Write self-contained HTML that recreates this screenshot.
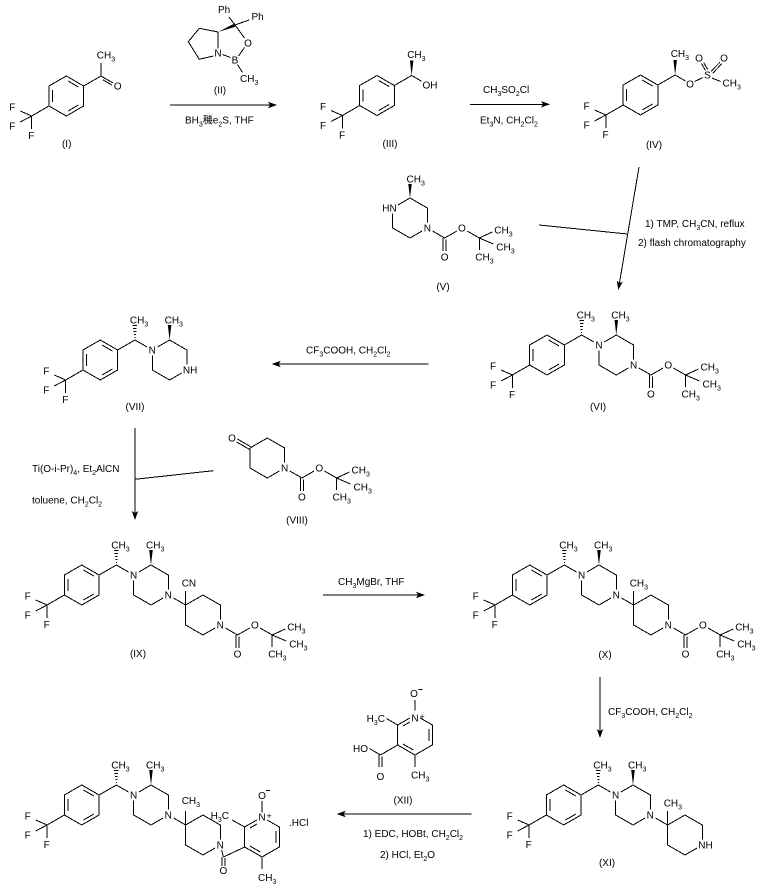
<!DOCTYPE html>
<html><head><meta charset="utf-8"><style>
html,body{margin:0;padding:0;background:#fff}
svg{display:block}
text{font-family:"Liberation Sans","Noto Sans CJK SC",sans-serif;font-size:10px;fill:#000}
.s{font-size:7px}
.m{text-anchor:middle}
.e{text-anchor:end}
path{fill:none;stroke:#000;stroke-width:1;shape-rendering:crispEdges}
polygon{fill:#000;stroke:none}
</style></head><body>
<svg width="757" height="887" viewBox="0 0 757 887" xmlns="http://www.w3.org/2000/svg">
<rect width="757" height="887" fill="#fff"/>
<defs>
<g id="bz"><path d="M0,-20 L17.32,-10 L17.32,10 L0,20 L-17.32,10 L-17.32,-10 Z M1.7,-15 L12.1,-9 M12.1,9 L1.7,15 M-13.8,-6 L-13.8,6 M-17.32,10 L-34.64,20 L-46,15 M-34.64,20 L-46,26 M-34.64,20 L-34.64,33"/></g>
<g id="mA">
<path d="M17.32,-10 L34.64,-20 L46.8,-13 M57.2,-13 L69.28,-20 L86.6,-10 L86.6,4.5 M81.4,13 L69.28,20 L51.96,10 L51.96,-4.5"/>
<path d="M34.14,-22.5 h1 M33.64,-25.5 h2 M33.24,-28.5 h2.8 M32.84,-31.5 h3.6 M32.44,-34.5 h4.4"/>
<polygon points="69.28,-20 67.5,-35 71.06,-35"/>
</g>
<g id="mB"><path d="M91.8,13 L103.92,20 L121.24,10 L138.56,20 L138.56,34.5 M133.4,43 L121.24,50 L103.92,40 L103.92,20 L103.92,6"/></g>
<g id="boc"><path d="M5.2,3 L17.32,10 L29.5,3 M39.8,3 L51.96,10 L64.96,4 M51.96,10 L65.96,16 M51.96,10 L51.96,22 M15.82,10 L15.82,23 M18.82,11.5 L18.82,23"/></g>
</defs>

<!-- I -->
<g transform="translate(66.3,96)">
<use href="#bz"/>
<text class="m" x="-54" y="14.6">F</text><text class="m" x="-54" y="33.6">F</text><text class="m" x="-35" y="43">F</text>
<path d="M17.32,-10 L34.64,-20 L34.64,-33 M34.64,-20 L46.5,-13.2 M36.6,-16.2 L45.5,-11"/>
<text class="m" x="51.5" y="-6.4">O</text>
<text x="30.5" y="-37.4">CH<tspan class="s" dy="3">3</tspan></text>
</g>
<text class="m" x="66.7" y="147">(I)</text>

<!-- II -->
<path d="M235,25 L229,17 M235,25 L249,20 M235,25 L244.5,38 M244.5,47.5 L238.5,56 M222.5,54.5 L230.5,57.5 M237.5,64.5 L242.5,72.5 M218,32 L218,48.5 M213.5,56 L199.3,59.3 L188.3,41.7 L199.3,28.3 L218,32"/>
<polygon points="218,32 235,23.3 235,26.9"/>
<text x="218" y="13">Ph</text>
<text x="251.5" y="20">Ph</text>
<text class="m" x="248" y="46.5">O</text>
<text class="m" x="235" y="63.5">B</text>
<text class="m" x="218" y="56.5">N</text>
<text x="240" y="82">CH<tspan class="s" dy="3">3</tspan></text>
<text class="m" x="220" y="93.5">(II)</text>

<!-- arrow 1 -->
<path d="M170,105 L276,105"/>
<polygon points="277,105 268,101.8 270,105 268,108.2"/>
<text x="185" y="123.5">BH<tspan class="s" dy="3">3</tspan><tspan dy="-3">穖e</tspan><tspan class="s" dy="3">2</tspan><tspan dy="-3">S, THF</tspan></text>

<!-- III -->
<g transform="translate(377,95.5)">
<use href="#bz"/>
<text class="m" x="-54" y="14.6">F</text><text class="m" x="-54" y="33.6">F</text><text class="m" x="-35" y="43">F</text>
<path d="M17.32,-10 L34.64,-20 L44.5,-14.3"/>
<polygon points="34.64,-20 32.9,-35 36.4,-35"/>
<text x="45.5" y="-7">OH</text>
<text x="30.2" y="-37.5">CH<tspan class="s" dy="3">3</tspan></text>
</g>
<text class="m" x="390" y="147">(III)</text>

<!-- arrow 2 -->
<path d="M470,104.3 L549,104.3"/>
<polygon points="550,104.3 541,101.1 543,104.3 541,107.5"/>
<text x="483" y="93">CH<tspan class="s" dy="3">3</tspan><tspan dy="-3">SO</tspan><tspan class="s" dy="3">2</tspan><tspan dy="-3">Cl</tspan></text>
<text x="480" y="123.5">Et<tspan class="s" dy="3">3</tspan><tspan dy="-3">N, CH</tspan><tspan class="s" dy="3">2</tspan><tspan dy="-3">Cl</tspan><tspan class="s" dy="3">2</tspan></text>

<!-- IV -->
<g transform="translate(640.5,95)">
<use href="#bz"/>
<text class="m" x="-54" y="14.6">F</text><text class="m" x="-54" y="33.6">F</text><text class="m" x="-35" y="43">F</text>
<path d="M17.32,-10 L34.64,-20 L45,-14 M54,-13.5 L62.5,-17.5 M71.5,-17 L80,-13.5 M65,-24.5 L61,-31.5 M67.2,-25.6 L63.2,-32.5 M70.5,-23.6 L79.5,-32.8 M72.3,-21.9 L81.3,-31.2"/>
<polygon points="34.64,-20 32.9,-35 36.4,-35"/>
<text x="30.2" y="-38">CH<tspan class="s" dy="3">3</tspan></text>
<text class="m" x="49.5" y="-7.5">O</text>
<text class="m" x="67" y="-16.4">S</text>
<text class="m" x="58.5" y="-33.4">O</text>
<text class="m" x="83.5" y="-33.4">O</text>
<text x="82" y="-8.4">CH<tspan class="s" dy="3">3</tspan></text>
</g>
<text class="m" x="654" y="148">(IV)</text>

<!-- V -->
<g transform="translate(410,218)">
<path d="M-12.1,-13 L0,-20 L17.32,-10 L17.32,4.5 M12.1,13 L0,20 L-17.32,10 L-17.32,-4.5"/>
<polygon points="0,-20 -1.75,-34 1.75,-34"/>
<text class="e" x="-13.3" y="-6.4">HN</text>
<text class="m" x="17.32" y="13.6">N</text>
<text x="-3.5" y="-35.5">CH<tspan class="s" dy="3">3</tspan></text>
</g>
<g transform="translate(427.32,228)"><use href="#boc"/>
<text class="m" x="17.32" y="32.6">O</text><text class="m" x="34.64" y="3.6">O</text>
<text x="66.96" y="5.6">CH<tspan class="s" dy="3">3</tspan></text><text x="68.96" y="22.6">CH<tspan class="s" dy="3">3</tspan></text><text x="47.96" y="32.6">CH<tspan class="s" dy="3">3</tspan></text>
</g>
<text class="m" x="443" y="290">(V)</text>

<!-- arrow 3 -->
<path d="M639,167 L618.6,288 M539,225 L627.3,234"/>
<polygon points="618.3,290 622.8,281.6 619.5,283.1 616.8,280.6"/>
<text x="645" y="227">1) TMP, CH<tspan class="s" dy="3">3</tspan><tspan dy="-3">CN, reflux</tspan></text>
<text x="638" y="246">2) flash chromatography</text>

<!-- VI -->
<g transform="translate(547,355)">
<use href="#bz"/><use href="#mA"/>
<text class="m" x="-54" y="14.6">F</text><text class="m" x="-54" y="33.6">F</text><text class="m" x="-35" y="43">F</text>
<text class="m" x="51.96" y="-6.4">N</text><text class="m" x="86.6" y="13.6">N</text>
<text x="29.6" y="-36.4">CH<tspan class="s" dy="3">3</tspan></text><text x="64.3" y="-36.4">CH<tspan class="s" dy="3">3</tspan></text>
</g>
<g transform="translate(633.6,365)"><use href="#boc"/>
<text class="m" x="17.32" y="32.6">O</text><text class="m" x="34.64" y="3.6">O</text>
<text x="66.96" y="5.6">CH<tspan class="s" dy="3">3</tspan></text><text x="68.96" y="22.6">CH<tspan class="s" dy="3">3</tspan></text><text x="47.96" y="32.6">CH<tspan class="s" dy="3">3</tspan></text>
</g>
<text class="m" x="598" y="410">(VI)</text>

<!-- arrow 4 -->
<path d="M428.3,364 L273,364"/>
<polygon points="271.7,364 280.7,360.8 278.7,364 280.7,367.2"/>
<text x="306" y="353.5">CF<tspan class="s" dy="3">3</tspan><tspan dy="-3">COOH, CH</tspan><tspan class="s" dy="3">2</tspan><tspan dy="-3">Cl</tspan><tspan class="s" dy="3">2</tspan></text>

<!-- VII -->
<g transform="translate(100.3,360)">
<use href="#bz"/><use href="#mA"/>
<text class="m" x="-54" y="14.6">F</text><text class="m" x="-54" y="33.6">F</text><text class="m" x="-35" y="43">F</text>
<text class="m" x="51.96" y="-6.4">N</text><text x="82.6" y="13.6">NH</text>
<text x="29.6" y="-36.4">CH<tspan class="s" dy="3">3</tspan></text><text x="64.3" y="-36.4">CH<tspan class="s" dy="3">3</tspan></text>
</g>
<text class="m" x="135" y="410">(VII)</text>

<!-- arrow 5 -->
<path d="M135,428 L135,518 M135,479.3 L213.3,470.7"/>
<polygon points="135,520 131.8,511 135,513 138.2,511"/>
<text x="32" y="472">Ti(O-i-Pr)<tspan class="s" dy="3">4</tspan><tspan dy="-3">, Et</tspan><tspan class="s" dy="3">2</tspan><tspan dy="-3">AlCN</tspan></text>
<text x="32" y="503.5">toluene, CH<tspan class="s" dy="3">2</tspan><tspan dy="-3">Cl</tspan><tspan class="s" dy="3">2</tspan></text>

<!-- VIII -->
<path d="M250,448 L267.3,438 L284.6,448 L284.6,462.5 M279.4,471 L267.3,478 L250,468 L250,448 M250.75,446.7 L237.5,439.1 M249.25,449.3 L236.5,441.9"/>
<text class="m" x="232" y="441.6">O</text>
<text class="m" x="284.6" y="471.6">N</text>
<g transform="translate(284.6,468)"><use href="#boc"/>
<text class="m" x="17.32" y="32.6">O</text><text class="m" x="34.64" y="3.6">O</text>
<text x="66.96" y="5.6">CH<tspan class="s" dy="3">3</tspan></text><text x="68.96" y="22.6">CH<tspan class="s" dy="3">3</tspan></text><text x="47.96" y="32.6">CH<tspan class="s" dy="3">3</tspan></text>
</g>
<text class="m" x="297" y="523.5">(VIII)</text>

<!-- IX -->
<g transform="translate(81.7,585)">
<use href="#bz"/><use href="#mA"/><use href="#mB"/>
<text class="m" x="-54" y="14.6">F</text><text class="m" x="-54" y="33.6">F</text><text class="m" x="-35" y="43">F</text>
<text class="m" x="51.96" y="-6.4">N</text><text class="m" x="86.6" y="13.6">N</text>
<text x="29.6" y="-36.4">CH<tspan class="s" dy="3">3</tspan></text><text x="64.3" y="-36.4">CH<tspan class="s" dy="3">3</tspan></text>
<text x="100" y="1.6">CN</text>
<text class="m" x="138.56" y="43.6">N</text>
</g>
<g transform="translate(220.26,625)"><use href="#boc"/>
<text class="m" x="17.32" y="32.6">O</text><text class="m" x="34.64" y="3.6">O</text>
<text x="66.96" y="5.6">CH<tspan class="s" dy="3">3</tspan></text><text x="68.96" y="22.6">CH<tspan class="s" dy="3">3</tspan></text><text x="47.96" y="32.6">CH<tspan class="s" dy="3">3</tspan></text>
</g>
<text class="m" x="138" y="657">(IX)</text>

<!-- arrow 6 -->
<path d="M323,595 L424,595"/>
<polygon points="425,595 416,591.8 418,595 416,598.2"/>
<text x="338" y="585">CH<tspan class="s" dy="3">3</tspan><tspan dy="-3">MgBr, THF</tspan></text>

<!-- X -->
<g transform="translate(529.7,585)">
<use href="#bz"/><use href="#mA"/><use href="#mB"/>
<text class="m" x="-54" y="14.6">F</text><text class="m" x="-54" y="33.6">F</text><text class="m" x="-35" y="43">F</text>
<text class="m" x="51.96" y="-6.4">N</text><text class="m" x="86.6" y="13.6">N</text>
<text x="29.6" y="-36.4">CH<tspan class="s" dy="3">3</tspan></text><text x="64.3" y="-36.4">CH<tspan class="s" dy="3">3</tspan></text>
<text x="100" y="1.6">CH<tspan class="s" dy="3">3</tspan></text>
<text class="m" x="138.56" y="43.6">N</text>
</g>
<g transform="translate(668.26,625)"><use href="#boc"/>
<text class="m" x="17.32" y="32.6">O</text><text class="m" x="34.64" y="3.6">O</text>
<text x="66.96" y="5.6">CH<tspan class="s" dy="3">3</tspan></text><text x="68.96" y="22.6">CH<tspan class="s" dy="3">3</tspan></text><text x="47.96" y="32.6">CH<tspan class="s" dy="3">3</tspan></text>
</g>
<text class="m" x="605" y="658">(X)</text>

<!-- arrow 7 -->
<path d="M600,677 L600,736"/>
<polygon points="600,738 596.8,729 600,731 603.2,729"/>
<text x="608" y="715">CF<tspan class="s" dy="3">3</tspan><tspan dy="-3">COOH, CH</tspan><tspan class="s" dy="3">2</tspan><tspan dy="-3">Cl</tspan><tspan class="s" dy="3">2</tspan></text>

<!-- XI -->
<g transform="translate(563.7,805)">
<use href="#bz"/><use href="#mA"/><use href="#mB"/>
<text class="m" x="-54" y="14.6">F</text><text class="m" x="-54" y="33.6">F</text><text class="m" x="-35" y="43">F</text>
<text class="m" x="51.96" y="-6.4">N</text><text class="m" x="86.6" y="13.6">N</text>
<text x="29.6" y="-36.4">CH<tspan class="s" dy="3">3</tspan></text><text x="64.3" y="-36.4">CH<tspan class="s" dy="3">3</tspan></text>
<text x="100" y="1.6">CH<tspan class="s" dy="3">3</tspan></text>
<text x="134.56" y="43.6">NH</text>
</g>
<text class="m" x="607" y="866">(XI)</text>

<!-- XII -->
<path d="M397.7,745 L397.7,725 L409.8,718 M420.2,718 L432.3,725 L432.3,745 L415,755 L397.7,745 M402.9,726 L410,722 M402.9,744 L413.3,750 M428.8,729 L428.8,741 M415,710.5 L415,700 M397.7,725 L386.5,718.5 M397.7,745 L380.4,755 M378.9,755 L378.9,767 M381.9,756.5 L381.9,767 M380.4,755 L369.5,748.5 M415,755 L415,767 M418.5,689.5 L422.5,689.5"/>
<text class="m" x="414" y="697">O</text>
<text class="m" x="415" y="721.6">N</text><text x="419.5" y="720" style="font-size:9px">+</text>
<text class="e" x="385" y="722">H<tspan class="s" dy="3">3</tspan><tspan dy="-3">C</tspan></text>
<text class="m" x="380.4" y="780">O</text>
<text class="e" x="368" y="752">HO</text>
<text x="411" y="778.6">CH<tspan class="s" dy="3">3</tspan></text>
<text class="m" x="403" y="803.5">(XII)</text>

<!-- arrow 8 -->
<path d="M471.7,814 L338,814"/>
<polygon points="336.7,814 345.7,810.8 343.7,814 345.7,817.2"/>
<text x="363" y="837">1) EDC, HOBt, CH<tspan class="s" dy="3">2</tspan><tspan dy="-3">Cl</tspan><tspan class="s" dy="3">2</tspan></text>
<text x="380" y="858">2) HCl, Et<tspan class="s" dy="3">2</tspan><tspan dy="-3">O</tspan></text>

<!-- final product -->
<g transform="translate(81.7,805)">
<use href="#bz"/><use href="#mA"/><use href="#mB"/>
<text class="m" x="-54" y="14.6">F</text><text class="m" x="-54" y="33.6">F</text><text class="m" x="-35" y="43">F</text>
<text class="m" x="51.96" y="-6.4">N</text><text class="m" x="86.6" y="13.6">N</text>
<text x="29.6" y="-36.4">CH<tspan class="s" dy="3">3</tspan></text><text x="64.3" y="-36.4">CH<tspan class="s" dy="3">3</tspan></text>
<text x="100" y="-1">CH<tspan class="s" dy="3">3</tspan></text>
<text class="m" x="138.56" y="43.6">N</text>
</g>
<path d="M221.6,850 L223.4,857 M221.9,857 L221.9,866 M224.9,858 L224.9,866 M223.4,857 L244.7,847 M244.7,847 L244.7,827 L256.8,820 M267.2,820 L279.3,827 L279.3,847 L262,857 L244.7,847 M249.9,828 L257,824 M249.9,846 L260.3,852 M275.8,831 L275.8,843 M262,812.5 L262,801 M244.7,827 L232,820 M262,857 L262,869 M266,790.5 L270,790.5"/>
<text class="m" x="223.4" y="874">O</text>
<text class="m" x="262" y="820.6">N</text><text x="266.5" y="819" style="font-size:9px">+</text>
<text class="m" x="262" y="799">O</text>
<text class="e" x="229" y="819">H<tspan class="s" dy="3">3</tspan><tspan dy="-3">C</tspan></text>
<text x="258" y="881">CH<tspan class="s" dy="3">3</tspan></text>
<text x="289" y="826">.HCl</text>
</svg>
</body></html>
